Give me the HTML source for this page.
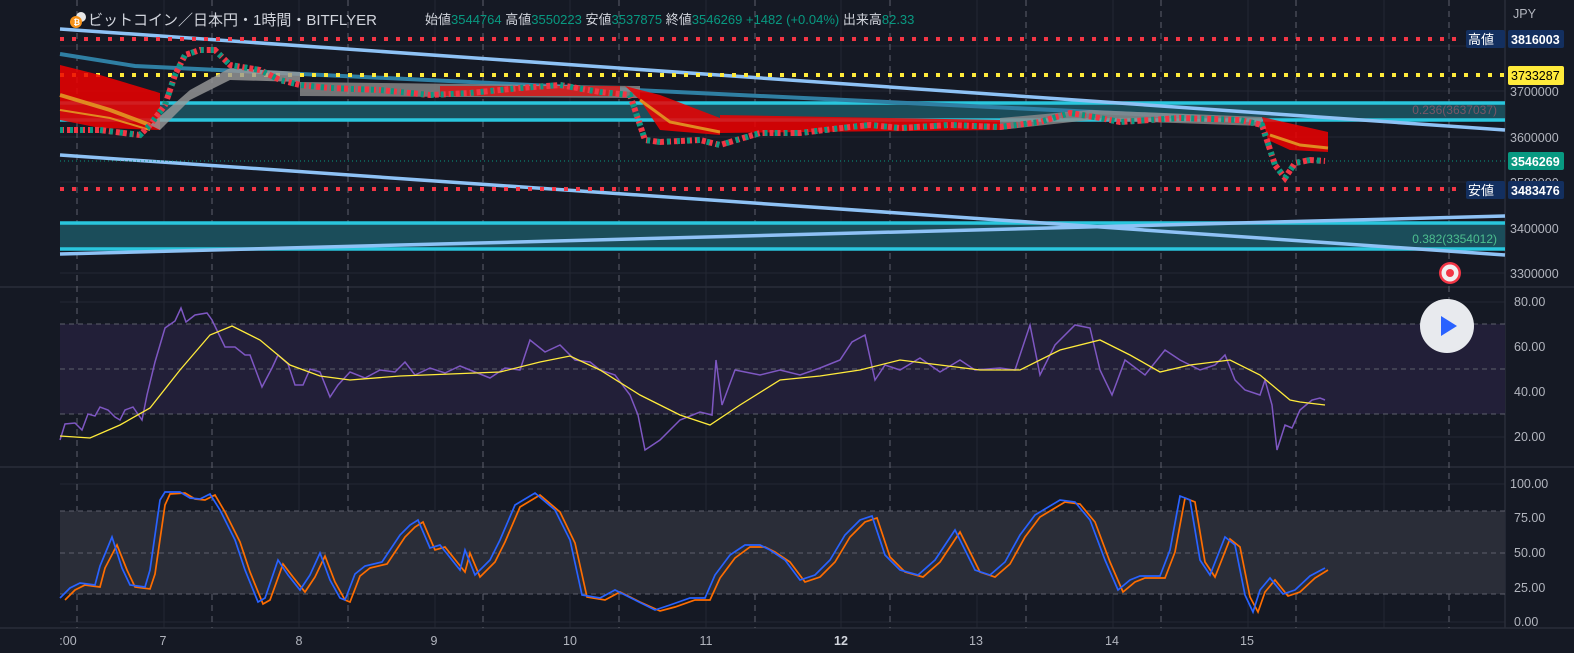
<!DOCTYPE html>
<html><head><meta charset="utf-8"><style>
html,body{margin:0;padding:0;background:#131722;}
svg{display:block;font-family:"Liberation Sans","Noto Sans CJK JP",sans-serif;}
</style></head><body>
<svg width="1574" height="653" viewBox="0 0 1574 653" xmlns="http://www.w3.org/2000/svg">
<rect width="1574" height="653" fill="#151924"/>
<g stroke="#232733" stroke-width="1">
<line x1="164" y1="0" x2="164" y2="628"/><line x1="299" y1="0" x2="299" y2="628"/><line x1="435" y1="0" x2="435" y2="628"/><line x1="570" y1="0" x2="570" y2="628"/><line x1="706" y1="0" x2="706" y2="628"/><line x1="841" y1="0" x2="841" y2="628"/><line x1="977" y1="0" x2="977" y2="628"/><line x1="1113" y1="0" x2="1113" y2="628"/><line x1="1248" y1="0" x2="1248" y2="628"/><line x1="1384" y1="0" x2="1384" y2="628"/>
<line x1="60" y1="46" x2="1505" y2="46"/><line x1="60" y1="91" x2="1505" y2="91"/><line x1="60" y1="137" x2="1505" y2="137"/><line x1="60" y1="182" x2="1505" y2="182"/><line x1="60" y1="228" x2="1505" y2="228"/><line x1="60" y1="273" x2="1505" y2="273"/>
<line x1="60" y1="302" x2="1505" y2="302"/><line x1="60" y1="347" x2="1505" y2="347"/><line x1="60" y1="392" x2="1505" y2="392"/><line x1="60" y1="437" x2="1505" y2="437"/>
<line x1="60" y1="484" x2="1505" y2="484"/><line x1="60" y1="518" x2="1505" y2="518"/><line x1="60" y1="553" x2="1505" y2="553"/><line x1="60" y1="588" x2="1505" y2="588"/><line x1="60" y1="622" x2="1505" y2="622"/>
</g>
<g stroke="#2a2e39" stroke-width="1.5"><line x1="0" y1="287" x2="1574" y2="287"/><line x1="0" y1="467" x2="1574" y2="467"/><line x1="0" y1="628" x2="1574" y2="628"/><line x1="1505" y1="0" x2="1505" y2="628"/></g>
<g stroke="#5d606b" stroke-width="1" stroke-dasharray="6,5">
<line x1="77" y1="0" x2="77" y2="628"/><line x1="212" y1="0" x2="212" y2="628"/><line x1="348" y1="0" x2="348" y2="628"/><line x1="483" y1="0" x2="483" y2="628"/><line x1="619" y1="0" x2="619" y2="628"/><line x1="755" y1="0" x2="755" y2="628"/><line x1="890" y1="0" x2="890" y2="628"/><line x1="1026" y1="0" x2="1026" y2="628"/><line x1="1161" y1="0" x2="1161" y2="628"/><line x1="1296" y1="0" x2="1296" y2="628"/><line x1="1449" y1="0" x2="1449" y2="628"/>
</g>
<rect x="60" y="103" width="1445" height="17" fill="#1b4d5a"/>
<rect x="60" y="223" width="1445" height="26" fill="#1b4d5a"/>
<g stroke="#29c6dd" stroke-width="3.5"><line x1="60" y1="103" x2="1505" y2="103"/><line x1="60" y1="120" x2="1505" y2="120"/><line x1="60" y1="223" x2="1505" y2="223"/><line x1="60" y1="249" x2="1505" y2="249"/></g>
<polyline points="60,54 135,66 1200,117" fill="none" stroke="#2f7fa3" stroke-width="4"/>
<g stroke="#8ec2f5" stroke-width="3.5"><line x1="60" y1="29" x2="1505" y2="130"/><line x1="60" y1="155" x2="1505" y2="255"/><line x1="60" y1="254" x2="1505" y2="216"/></g>
<line x1="60" y1="39" x2="1462" y2="39" stroke="#f23645" stroke-width="4" stroke-dasharray="4,8"/>
<line x1="60" y1="189" x2="1462" y2="189" stroke="#f23645" stroke-width="4" stroke-dasharray="4,8"/>
<line x1="60" y1="75" x2="1505" y2="75" stroke="#ffeb3b" stroke-width="4" stroke-dasharray="4,8"/>
<line x1="60" y1="161" x2="1505" y2="161" stroke="#089981" stroke-width="1" stroke-dasharray="1,3"/>
<polygon points="60,65 100,75 160,93 160,130 100,128 60,120" fill="#e00" opacity="0.85"/>
<polyline points="60,95 110,110 150,125" fill="none" stroke="#e08a20" stroke-width="4"/>
<polyline points="60,110 110,118 150,130" fill="none" stroke="#e08a20" stroke-width="2"/>
<polygon points="150,125 190,90 230,68 300,72 300,82 230,80 190,100 160,130" fill="#9a9a9a" opacity="0.8"/>
<polygon points="300,82 640,86 640,98 300,96" fill="#8c8c8c" opacity="0.8"/>
<polygon points="440,86 620,86 620,96 440,96" fill="#e00" opacity="0.7"/>
<polygon points="625,86 660,95 720,118 720,135 660,130 640,100" fill="#e00" opacity="0.85"/>
<polyline points="640,100 670,122 720,132" fill="none" stroke="#e08a20" stroke-width="3"/>
<polygon points="720,115 1000,120 1000,130 720,133" fill="#e00" opacity="0.85"/>
<polygon points="1000,118 1090,110 1262,117 1262,126 1090,120 1000,130" fill="#8c8c8c" opacity="0.8"/>
<polygon points="1262,117 1328,132 1328,152 1290,150 1268,140" fill="#e00" opacity="0.85"/>
<polyline points="1270,135 1300,145 1328,148" fill="none" stroke="#e08a20" stroke-width="3"/>
<polyline points="60,130 100,130 140,135 150,125 165,105 175,75 185,55 200,50 215,50 230,65 260,70 280,80 300,85 330,88 380,90 430,95 470,93 520,88 560,85 600,92 630,95 645,140 660,142 700,140 720,145 760,133 800,133 850,127 870,125 900,128 950,125 1000,127 1040,122 1070,113 1100,118 1120,122 1180,118 1240,120 1262,125 1275,165 1285,178 1295,163 1310,160 1325,161" fill="none" stroke="#f23645" stroke-width="6" stroke-dasharray="4,3"/>
<polyline points="60,130 100,130 140,135 150,125 165,105 175,75 185,55 200,50 215,50 230,65 260,70 280,80 300,85 330,88 380,90 430,95 470,93 520,88 560,85 600,92 630,95 645,140 660,142 700,140 720,145 760,133 800,133 850,127 870,125 900,128 950,125 1000,127 1040,122 1070,113 1100,118 1120,122 1180,118 1240,120 1262,125 1275,165 1285,178 1295,163 1310,160 1325,161" fill="none" stroke="#089981" stroke-width="6" stroke-dasharray="3,7"/>
<rect x="60" y="324" width="1445" height="90" fill="#221f38"/>
<g stroke="#5d606b" stroke-dasharray="5,4"><line x1="60" y1="324" x2="1505" y2="324"/><line x1="60" y1="369" x2="1505" y2="369"/><line x1="60" y1="414" x2="1505" y2="414"/></g>
<polyline points="60,440 65,424 75,423 82,430 88,414 95,416 100,407 108,410 115,417 120,420 125,410 133,407 142,420 147,395 155,362 165,328 175,321 181,308 186,322 195,315 207,313 212,320 225,347 235,347 245,355 250,355 262,387 272,368 278,355 288,364 295,385 303,385 310,369 320,372 330,397 338,385 350,372 365,378 380,370 395,372 405,362 415,375 430,368 445,373 460,366 475,372 490,378 505,368 520,370 530,340 545,352 560,345 575,360 590,362 600,370 615,375 630,395 638,415 645,450 660,440 680,420 700,412 712,415 716,360 722,405 735,370 760,375 780,370 800,375 820,368 840,360 852,342 865,335 875,380 885,365 900,370 920,358 940,372 960,360 975,370 1000,368 1015,370 1030,325 1040,375 1055,345 1075,325 1090,328 1100,370 1112,395 1125,360 1145,375 1165,350 1180,360 1200,370 1215,365 1225,355 1235,380 1245,390 1260,395 1265,380 1272,405 1277,450 1285,425 1292,428 1300,410 1312,400 1320,398 1325,400" fill="none" stroke="#7e57c2" stroke-width="1.5"/>
<polyline points="60,436 90,438 120,425 150,408 180,370 210,335 232,326 260,340 290,365 320,376 350,380 400,376 450,374 500,372 540,362 570,356 600,370 640,395 680,415 710,425 740,405 780,380 820,376 860,370 900,360 940,365 980,370 1020,370 1060,350 1100,340 1130,355 1160,372 1190,365 1230,360 1260,375 1290,400 1300,402 1325,405" fill="none" stroke="#ffeb3b" stroke-width="1.3"/>
<rect x="60" y="511" width="1445" height="83" fill="#2a2d38"/>
<g stroke="#5d606b" stroke-dasharray="5,4"><line x1="60" y1="511" x2="1505" y2="511"/><line x1="60" y1="553" x2="1505" y2="553"/><line x1="60" y1="594" x2="1505" y2="594"/></g>
<polyline points="65,600 75,590 85,585 100,587 105,568 117,545 127,570 135,587 150,589 155,574 165,505 170,494 185,493 195,499 205,500 215,495 225,512 240,542 250,572 263,604 270,600 283,564 293,577 305,592 315,577 325,556 335,582 345,600 350,602 360,576 370,568 387,564 405,537 415,527 423,522 435,550 445,547 465,572 470,553 480,577 495,562 505,542 520,507 540,495 560,512 575,543 587,597 605,600 620,592 640,602 660,611 675,607 695,600 710,600 720,578 735,558 750,547 765,547 775,552 790,562 805,582 820,577 835,562 850,537 865,522 877,518 890,557 905,572 923,577 940,562 960,532 980,572 995,577 1010,564 1025,537 1040,517 1065,502 1080,504 1095,522 1110,562 1123,592 1135,582 1145,578 1165,578 1175,552 1185,498 1195,502 1205,562 1215,577 1230,539 1240,547 1250,597 1258,612 1265,592 1275,580 1288,596 1300,592 1315,578 1328,570" fill="none" stroke="#ff6d00" stroke-width="1.7"/>
<polyline points="60,598 70,588 80,583 95,585 100,566 112,537 122,568 130,585 145,587 150,570 160,500 165,492 180,492 190,498 200,499 210,494 220,510 235,540 245,570 258,602 265,598 278,560 288,575 300,590 310,575 320,553 330,580 340,598 345,600 355,574 365,566 382,562 400,535 410,525 418,520 430,548 440,545 460,570 465,550 475,575 490,560 500,540 515,505 535,493 555,510 570,540 582,595 600,598 615,590 635,600 655,610 670,605 690,598 705,598 715,575 730,555 745,545 760,545 770,550 785,560 800,580 815,575 830,560 845,535 860,520 872,516 885,555 900,570 918,575 935,560 955,530 975,570 990,575 1005,562 1020,535 1035,515 1060,500 1075,502 1090,520 1105,560 1118,590 1130,580 1140,576 1160,576 1170,550 1180,496 1190,500 1200,560 1210,575 1225,537 1235,545 1245,595 1253,612 1260,590 1270,578 1283,594 1295,590 1310,576 1325,568" fill="none" stroke="#2962ff" stroke-width="1.7"/>
<circle cx="81" cy="17" r="5" fill="#e8e8e8"/>
<circle cx="76" cy="22" r="6" fill="#f7931a"/>
<text x="73.5" y="25" font-size="8" fill="#fff" font-weight="bold">₿</text>
<text x="88" y="25" font-size="15" fill="#d1d4dc">ビットコイン／日本円・1時間・BITFLYER</text>
<text x="425" y="24" font-size="13" fill="#d1d4dc">始値<tspan fill="#089981">3544764</tspan> 高値<tspan fill="#089981">3550223</tspan> 安値<tspan fill="#089981">3537875</tspan> 終値<tspan fill="#089981">3546269 +1482 (+0.04%)</tspan> 出来高<tspan fill="#089981">82.33</tspan></text>
<text x="1497" y="114" font-size="12" fill="#7a5566" text-anchor="end">0.236(3637037)</text>
<text x="1497" y="243" font-size="12" fill="#4cbf8f" text-anchor="end">0.382(3354012)</text>
<g font-size="12.5" fill="#b2b5be">
<text x="1513" y="18">JPY</text>
<text x="1510" y="96">3700000</text><text x="1510" y="142">3600000</text><text x="1510" y="187">3500000</text><text x="1510" y="233">3400000</text><text x="1510" y="278">3300000</text>
<text x="1514" y="306">80.00</text><text x="1514" y="351">60.00</text><text x="1514" y="396">40.00</text><text x="1514" y="441">20.00</text>
<text x="1510" y="488">100.00</text><text x="1514" y="522">75.00</text><text x="1514" y="557">50.00</text><text x="1514" y="592">25.00</text><text x="1514" y="626">0.00</text>
</g>
<rect x="1466" y="30" width="39" height="18" rx="2" fill="#132f5f"/><text x="1468" y="44" font-size="13" fill="#fff">高値</text>
<rect x="1508" y="30" width="56" height="18" rx="2" fill="#132f5f"/><text x="1511" y="44" font-size="12.5" fill="#fff" font-weight="bold">3816003</text>
<rect x="1508" y="66" width="56" height="19" rx="2" fill="#ffeb3b"/><text x="1511" y="80" font-size="12.5" fill="#000">3733287</text>
<rect x="1508" y="152" width="56" height="18" rx="2" fill="#089981"/><text x="1511" y="166" font-size="12.5" fill="#fff" font-weight="bold">3546269</text>
<rect x="1466" y="181" width="39" height="18" rx="2" fill="#132f5f"/><text x="1468" y="195" font-size="13" fill="#fff">安値</text>
<rect x="1508" y="181" width="56" height="18" rx="2" fill="#132f5f"/><text x="1511" y="195" font-size="12.5" fill="#fff" font-weight="bold">3483476</text>
<circle cx="1450" cy="273" r="11" fill="#f23645"/><circle cx="1450" cy="273" r="8.5" fill="#f0f0f0"/><circle cx="1450" cy="273" r="4" fill="#f23645"/>
<circle cx="1447" cy="326" r="27" fill="#e8eaee"/><polygon points="1441,316 1441,336 1457,326" fill="#2962ff"/>
<g font-size="12.5" fill="#b2b5be" text-anchor="middle">
<text x="68" y="645">:00</text><text x="163" y="645">7</text><text x="299" y="645">8</text><text x="434" y="645">9</text><text x="570" y="645">10</text><text x="706" y="645">11</text><text x="841" y="645" font-weight="bold" fill="#d1d4dc">12</text><text x="976" y="645">13</text><text x="1112" y="645">14</text><text x="1247" y="645">15</text>
</g>
</svg>
</body></html>
